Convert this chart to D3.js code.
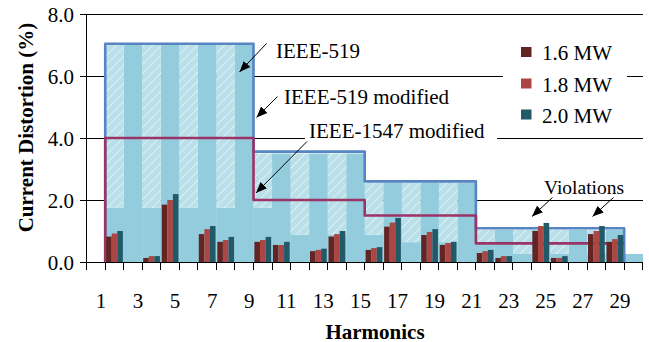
<!DOCTYPE html>
<html>
<head>
<meta charset="utf-8">
<script src="https://cdn.jsdelivr.net/npm/d3@7"></script>
<style>
  html, body { margin: 0; padding: 0; background: #fff; }
  svg { display: block; }
  text { font-family: "Liberation Serif", "Times New Roman", serif; fill: #000; }
</style>
</head>
<body>
<svg id="chart" width="649" height="342"></svg>
<script>
// Harmonic orders on the category axis
const harmonics = [1, 2, 3, 4, 5, 6, 7, 8, 9, 10, 11, 12, 13, 14, 15,
                   16, 17, 18, 19, 20, 21, 22, 23, 24, 25, 26, 27, 28, 29, 30];
const xTickLabels = [1, 3, 5, 7, 9, 11, 13, 15, 17, 19, 21, 23, 25, 27, 29];
const yTicks = [0, 2, 4, 6, 8];

// Measured current distortion (%) per harmonic for each plant size
const mw16 = [null, 0.82, 0, 0.13, 1.85, 0, 0.90, 0.65, 0, 0.65, 0.55, 0, 0.35, 0.82, 0,
              0.39, 1.14, 0, 0.87, 0.55, 0, 0.29, 0.13, 0, 1.00, 0.13, 0, 0.90, 0.65, 0];
const mw18 = [null, 0.92, 0, 0.19, 2.00, 0, 1.06, 0.71, 0, 0.71, 0.55, 0, 0.39, 0.90, 0,
              0.45, 1.27, 0, 0.97, 0.61, 0, 0.35, 0.19, 0, 1.16, 0.13, 0, 1.00, 0.74, 0];
const mw20 = [null, 1.00, 0, 0.19, 2.19, 0, 1.16, 0.81, 0, 0.81, 0.65, 0, 0.43, 1.00, 0,
              0.48, 1.42, 0, 1.06, 0.65, 0, 0.39, 0.19, 0, 1.26, 0.19, 0, 1.16, 0.87, 0];
const seriesNames = ["1.6 MW", "1.8 MW", "2.0 MW"];
const seriesColors = ["#632523", "#aa4643", "#215968"];

// IEEE-519 limits (even harmonics at 25 % of the odd limit)
const limit519 = [null, 1.75, 7.0, 1.75, 7.0, 1.75, 7.0, 1.75, 7.0, 1.75, 3.5, 0.875, 3.5, 0.875, 3.5,
                  0.875, 2.56, 0.64, 2.56, 0.64, 2.56, 0.64, 1.04, 0.26, 1.04, 0.26, 1.04, 0.26, 1.04, 0.26];
// Modified limits: even harmonics raised to the odd limit of their band
const limitModified = [null, 7.0, 7.0, 7.0, 7.0, 7.0, 7.0, 7.0, 7.0, 3.5, 3.5, 3.5, 3.5, 3.5, 3.5,
                       2.56, 2.56, 2.56, 2.56, 2.56, 2.56, 1.04, 1.04, 1.04, 1.04, 1.04, 1.04, 1.04, 1.04, null];

// Harmonic bands of the stepped limit lines
const bandStart = [2, 10, 16, 22];
const bandEnd = [9, 15, 21, 29];
const line519Modified = [7.04, 3.56, 2.6, 1.09];
const line1547Modified = [4.0, 2.0, 1.5, 0.6];

const svg = d3.select("#chart");
const plotLeft = 86.7, plotRight = 642.7, plotTop = 14, plotBottom = 262;

const x = d3.scaleBand().domain(harmonics).range([plotLeft, plotRight]).padding(0);
const xIn = d3.scaleBand().domain([0, 1, 2]).range([0, x.bandwidth()]).paddingOuter(0.16).paddingInner(0);
const y = d3.scaleLinear().domain([0, 8]).range([plotBottom, plotTop]);

// Hatch for the raised even-harmonic limits
const defs = svg.append("defs");
const pat = defs.append("pattern").attr("id", "hatch")
  .attr("patternUnits", "userSpaceOnUse").attr("width", 9).attr("height", 9);
pat.append("rect").attr("width", 9).attr("height", 9).attr("fill", "#b9dfe9");
pat.append("path").attr("d", "M-2,11 L11,-2 M-2,2 L2,-2 M7,11 L11,7")
  .attr("stroke", "#e6f4f8").attr("stroke-width", 1.1).attr("opacity", 0.8);

const marker = defs.append("marker").attr("id", "arrow")
  .attr("markerUnits", "userSpaceOnUse").attr("markerWidth", 12).attr("markerHeight", 10)
  .attr("viewBox", "0 -5 12 10").attr("refX", 11).attr("refY", 0).attr("orient", "auto");
marker.append("path").attr("d", "M0,-4.5 L11,0 L0,4.5 Z").attr("fill", "#000");

// Gridlines
svg.append("g").attr("shape-rendering", "crispEdges")
  .selectAll("line").data(yTicks.filter(d => d > 0)).join("line")
  .attr("x1", plotLeft).attr("x2", plotRight)
  .attr("y1", d => y(d)).attr("y2", d => y(d))
  .attr("stroke", "#000").attr("stroke-width", 1);

// IEEE-519 limit columns
const rows = harmonics.map((h, i) => ({
  h, base: limit519[i], mod: limitModified[i], v: [mw16[i], mw18[i], mw20[i]]
}));

svg.append("g").selectAll("rect").data(rows.filter(d => d.base != null)).join("rect")
  .attr("x", d => x(d.h)).attr("width", x.bandwidth() + 0.3)
  .attr("y", d => y(d.base)).attr("height", d => y(0) - y(d.base))
  .attr("fill", "#93cddd");

svg.append("g").selectAll("rect").data(rows.filter(d => d.mod != null && d.mod > d.base)).join("rect")
  .attr("x", d => x(d.h)).attr("width", x.bandwidth())
  .attr("y", d => y(d.mod)).attr("height", d => y(d.base) - y(d.mod))
  .attr("fill", "url(#hatch)");

// Stepped limit lines
function stepPath(levels, closeToZero) {
  const p = d3.path();
  p.moveTo(x(bandStart[0]), y(0));
  levels.forEach((lv, i) => {
    p.lineTo(x(bandStart[i]), y(lv));
    p.lineTo(x(bandEnd[i]) + x.bandwidth(), y(lv));
  });
  if (closeToZero) p.lineTo(x(bandEnd[bandEnd.length - 1]) + x.bandwidth(), y(0));
  return p.toString();
}
svg.append("path").attr("d", stepPath(line519Modified, true))
  .attr("fill", "none").attr("stroke", "#5784c2").attr("stroke-width", 2.6)
  .attr("stroke-linejoin", "round");
svg.append("path").attr("d", stepPath(line1547Modified, false))
  .attr("fill", "none").attr("stroke", "#9a3366").attr("stroke-width", 2.6)
  .attr("stroke-linejoin", "round");

// Clustered bars
const barG = svg.append("g");
rows.forEach(r => {
  r.v.forEach((v, k) => {
    if (v == null || v <= 0) return;
    barG.append("rect")
      .attr("x", x(r.h) + xIn(k)).attr("width", xIn.bandwidth())
      .attr("y", y(v)).attr("height", y(0) - y(v))
      .attr("fill", seriesColors[k]);
  });
});

// Axes
const axisG = svg.append("g").attr("shape-rendering", "crispEdges");
axisG.append("line").attr("x1", plotLeft).attr("x2", plotRight).attr("y1", plotBottom).attr("y2", plotBottom)
  .attr("stroke", "#000").attr("stroke-width", 1);
axisG.append("line").attr("x1", plotLeft).attr("x2", plotLeft).attr("y1", plotTop).attr("y2", plotBottom)
  .attr("stroke", "#000").attr("stroke-width", 1);

const xBounds = harmonics.map(h => x(h)).concat([plotRight]);
axisG.append("g").selectAll("line").data(xBounds).join("line")
  .attr("x1", d => d).attr("x2", d => d).attr("y1", plotBottom).attr("y2", plotBottom + 8)
  .attr("stroke", "#000").attr("stroke-width", 1);
axisG.append("g").selectAll("line").data(yTicks).join("line")
  .attr("x1", plotLeft - 7).attr("x2", plotLeft).attr("y1", d => y(d)).attr("y2", d => y(d))
  .attr("stroke", "#000").attr("stroke-width", 1);

svg.append("g").selectAll("text").data(xTickLabels).join("text")
  .attr("x", d => x(d) + x.bandwidth() / 2 + 5).attr("y", 307.5)
  .attr("text-anchor", "middle").attr("font-size", 21).text(d => d);
svg.append("g").selectAll("text").data(yTicks).join("text")
  .attr("x", 74).attr("y", d => y(d) + 8)
  .attr("text-anchor", "end").attr("font-size", 21).text(d3.format(".1f"));

svg.append("text").attr("x", 375).attr("y", 338.5).attr("text-anchor", "middle")
  .attr("font-size", 21).attr("font-weight", "bold").text("Harmonics");
svg.append("text").attr("transform", "translate(33,127.5) rotate(-90)")
  .attr("text-anchor", "middle").attr("font-size", 21).attr("font-weight", "bold")
  .text("Current Distortion (%)");

// Legend
svg.append("rect").attr("x", 503).attr("y", 28).attr("width", 124).attr("height", 104).attr("fill", "#fff");
const legendY = [60, 91.5, 122.5];
seriesNames.forEach((name, k) => {
  svg.append("rect").attr("x", 521).attr("y", legendY[k] - 13).attr("width", 10.5).attr("height", 10)
    .attr("fill", seriesColors[k]);
  svg.append("text").attr("x", 542).attr("y", legendY[k]).attr("font-size", 21).text(name);
});

// Annotations
function arrow(x1, y1, x2, y2) {
  svg.append("line").attr("x1", x1).attr("y1", y1).attr("x2", x2).attr("y2", y2)
    .attr("stroke", "#000").attr("stroke-width", 1).attr("marker-end", "url(#arrow)");
}
svg.append("text").attr("x", 276).attr("y", 57.5).attr("font-size", 21).text("IEEE-519");
arrow(266.5, 43.5, 239.5, 72);

svg.append("text").attr("x", 284).attr("y", 103.5).attr("font-size", 21).text("IEEE-519 modified");
arrow(277.5, 96.5, 256.5, 117.5);

svg.append("rect").attr("x", 305).attr("y", 123).attr("width", 192).attr("height", 24).attr("fill", "#fff");
svg.append("text").attr("x", 309).attr("y", 138).attr("font-size", 21).text("IEEE-1547 modified");
arrow(307, 141.5, 256, 193);

svg.append("text").attr("x", 544).attr("y", 193.5).attr("font-size", 19.5).text("Violations");
arrow(552.5, 197.5, 532, 216.5);
arrow(613.5, 197.5, 592.5, 216.5);
</script>
</body>
</html>
